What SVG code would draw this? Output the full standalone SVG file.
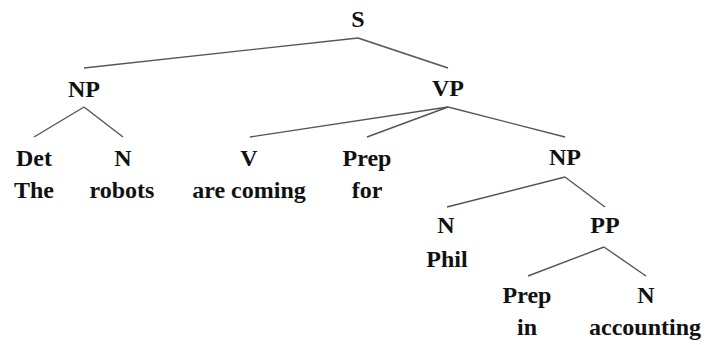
<svg xmlns="http://www.w3.org/2000/svg" width="707" height="345" viewBox="0 0 707 345">
  <style>
    text { font-family: "Liberation Serif", "Times New Roman", serif; font-weight: bold; font-size: 24px; fill: #111; text-anchor: middle; }
    .edge { stroke: #555; stroke-width: 1.4; fill: none; }
  </style>
  <rect width="707" height="345" fill="#fff"/>
  <g id="connectors">
    <line class="edge" x1="358" y1="38" x2="84" y2="68"/>
    <line class="edge" x1="358" y1="38" x2="448" y2="68"/>
    <line class="edge" x1="84" y1="107" x2="34" y2="137"/>
    <line class="edge" x1="84" y1="107" x2="123" y2="137"/>
    <line class="edge" x1="448" y1="107" x2="250" y2="137"/>
    <line class="edge" x1="448" y1="107" x2="367" y2="137"/>
    <line class="edge" x1="448" y1="107" x2="565" y2="137"/>
    <line class="edge" x1="565" y1="177" x2="447" y2="207"/>
    <line class="edge" x1="565" y1="177" x2="605" y2="207"/>
    <line class="edge" x1="604" y1="247" x2="528" y2="276"/>
    <line class="edge" x1="604" y1="247" x2="646" y2="276"/>
  </g>
  <g id="S"><text x="358" y="27">S</text></g>
  <g id="NP1"><text x="84" y="97">NP</text></g>
  <g id="VP"><text x="448" y="96">VP</text></g>
  <g id="Det"><text x="34" y="166">Det</text><text x="34" y="198">The</text></g>
  <g id="N1"><text x="123" y="166">N</text><text x="122" y="198">robots</text></g>
  <g id="V"><text x="249" y="166">V</text><text x="249" y="198">are coming</text></g>
  <g id="Prep1"><text x="367" y="166">Prep</text><text x="367" y="198">for</text></g>
  <g id="NP2"><text x="565" y="165">NP</text></g>
  <g id="N2"><text x="446" y="233">N</text><text x="447" y="267">Phil</text></g>
  <g id="PP"><text x="605" y="233">PP</text></g>
  <g id="Prep2"><text x="527" y="303">Prep</text><text x="527" y="335">in</text></g>
  <g id="N3"><text x="646" y="303">N</text><text x="645" y="335">accounting</text></g>
</svg>
